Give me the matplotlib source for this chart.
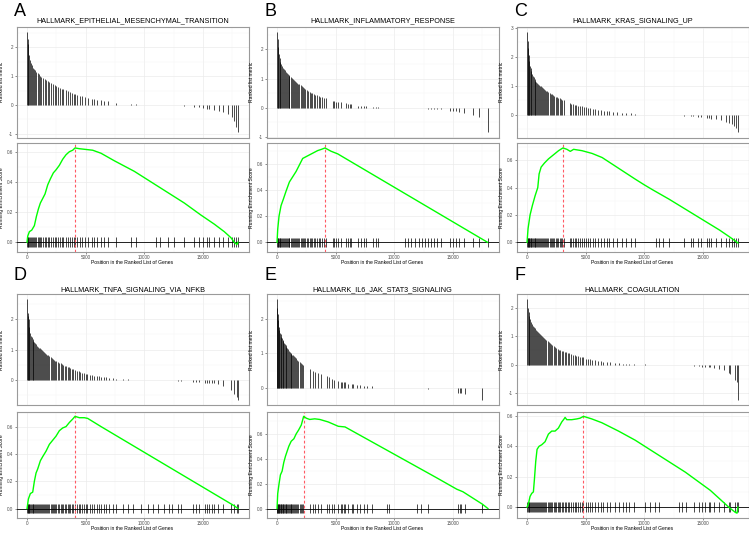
import matplotlib
matplotlib.use("Agg")
import matplotlib.pyplot as plt
import numpy as np
from matplotlib.ticker import MultipleLocator, FormatStrFormatter

plt.rcParams["font.family"] = ["Liberation Sans", "DejaVu Sans"]
plt.rcParams["axes.unicode_minus"] = False

N_GENES = 17980

# ---- A: EMT ----
hits_a = [10, 60, 120, 180, 250, 330, 420, 500, 600, 700, 800, 900, 1000, 1100, 1200,
          1350, 1500, 1600, 1750, 1900, 2050, 2200, 2350, 2500, 2650, 2800, 2950, 3100,
          3300, 3500, 3650, 3800, 4000, 4100, 4300, 4500, 4700, 4900, 5200, 5500, 5700,
          6000, 6300, 6600, 6900,
          7580, 8860, 9290, 10990, 11360, 11990, 12500, 13350, 14260, 14680, 14970,
          15310, 15540, 15960, 16390, 16670, 17100, 17470, 17670, 17840, 17960]
metric_a = [2.53, 2.3, 2.1, 1.75, 1.55, 1.45, 1.38, 1.3, 1.25, 1.2, 1.15, 1.1, 1.06, 1.02,
            0.98, 0.94, 0.9, 0.87, 0.83, 0.8, 0.76, 0.73, 0.7, 0.67, 0.63, 0.6, 0.57, 0.55,
            0.52, 0.49, 0.46, 0.43, 0.4, 0.38, 0.35, 0.32, 0.3, 0.27, 0.24, 0.21, 0.2, 0.18,
            0.16, 0.15, 0.14,
            0.07, 0.03, 0.02, 0.01, 0.01, 0.0, -0.01, -0.02, -0.06, -0.08, -0.1, -0.12,
            -0.14, -0.17, -0.2, -0.24, -0.3, -0.4, -0.55, -0.75, -0.95]
es_pos_a = [0, 57, 199, 398, 625, 795, 966, 1136, 1335, 1534, 1761, 1988, 2244, 2471, 2755,
            3039, 3323, 3607, 3891, 4090, 4459, 5027, 5595, 6305, 7441, 9145, 10565, 11985,
            13405, 14825, 15961, 16813, 17381, 17665, 17892, 17980]
es_a = [0, 0.04, 0.07, 0.08, 0.11, 0.17, 0.22, 0.26, 0.29, 0.32, 0.38, 0.42, 0.46, 0.48, 0.51,
        0.55, 0.58, 0.60, 0.61, 0.625, 0.62, 0.615, 0.61, 0.59, 0.54, 0.47, 0.40, 0.33, 0.26,
        0.18, 0.12, 0.07, 0.03, 0.0, -0.015, 0.0]

# ---- B: inflammatory response ----
hits_b = [5, 40, 90, 150, 210, 280, 350, 430, 500, 580, 660, 740, 820, 900, 980, 1060, 1150,
          1240, 1330, 1420, 1510, 1600, 1700, 1800, 1900, 2000, 2100, 2200, 2300, 2420, 2540,
          2660, 2780, 2900, 3020, 3140, 3260, 3400, 3550, 3700, 3850, 4000, 4150,
          4743, 4885, 5027, 5226, 5453, 5879, 6021, 6191, 6305, 6930, 7157, 7384, 7583,
          8179, 8406, 8634,
          10906, 11133, 11417, 11758, 12127, 12326, 12610, 12894, 13121, 13405, 13632, 13973,
          14768, 14967, 15251, 15478, 15961, 16671, 17182, 17949]
metric_b = [2.6, 2.35, 2.1, 1.85, 1.7, 1.58, 1.5, 1.44, 1.38, 1.33, 1.28, 1.24, 1.2, 1.16,
            1.12, 1.09, 1.05, 1.02, 0.99, 0.96, 0.93, 0.9, 0.86, 0.83, 0.8, 0.77, 0.74, 0.71,
            0.68, 0.64, 0.61, 0.58, 0.55, 0.52, 0.5, 0.47, 0.45, 0.42, 0.4, 0.38, 0.36, 0.35, 0.33,
            0.23, 0.22, 0.21, 0.2, 0.19, 0.15, 0.14, 0.13, 0.12, 0.07, 0.06, 0.06, 0.05,
            0.04, 0.035, 0.03,
            -0.01, -0.01, -0.01, -0.015, -0.02, -0.02, -0.025, -0.03, -0.03, -0.04, -0.04, -0.05,
            -0.1, -0.11, -0.12, -0.14, -0.17, -0.25, -0.33, -0.85]
es_pos_b = [0, 57, 170, 341, 540, 767, 1051, 1335, 1619, 1903, 2187, 2613, 3039, 3465, 3806,
            4090, 4601, 5169, 6305, 7725, 9145, 10565, 11985, 13405, 14825, 16245, 17381, 17949]
es_b = [0, 0.1, 0.2, 0.28, 0.33, 0.39, 0.46, 0.5, 0.54, 0.59, 0.64, 0.66, 0.68, 0.7, 0.71,
        0.72, 0.695, 0.675, 0.615, 0.54, 0.465, 0.39, 0.315, 0.24, 0.165, 0.09, 0.03, 0.0]

# ---- C: KRAS signaling up ----
hits_c = [5, 40, 80, 130, 180, 240, 300, 370, 440, 510, 580, 650, 720, 800, 880, 960, 1040,
          1120, 1200, 1280, 1370, 1460, 1550, 1640, 1730, 1820, 1920, 2020, 2120, 2220, 2330,
          2440, 2550, 2660, 2770, 2880, 3000, 3150,
          3628, 3743, 3886, 4057, 4171, 4343, 4514, 4686, 4857, 5028, 5200, 5400, 5600, 5828,
          6057, 6285, 6543, 6828, 7028, 7314, 7685, 8057, 8400, 8828, 9200,
          11028, 11257, 11600, 12114, 13400, 13971, 14171, 14543, 14828, 15314, 15485, 15685,
          16114, 16543, 16971, 17200, 17485, 17685, 17828, 17971]
metric_c = [2.86, 2.55, 2.3, 2.05, 1.85, 1.7, 1.6, 1.5, 1.42, 1.35, 1.29, 1.23, 1.18, 1.14,
            1.1, 1.07, 1.04, 1.0, 0.98, 0.95, 0.92, 0.89, 0.86, 0.83, 0.8, 0.78, 0.76, 0.73,
            0.71, 0.68, 0.65, 0.62, 0.6, 0.58, 0.56, 0.54, 0.52, 0.5,
            0.4, 0.38, 0.36, 0.34, 0.33, 0.31, 0.3, 0.28, 0.26, 0.25, 0.23, 0.22, 0.2, 0.18,
            0.17, 0.15, 0.13, 0.12, 0.11, 0.1, 0.08, 0.06, 0.05, 0.04, 0.03,
            -0.01, -0.015, -0.02, -0.02, -0.04, -0.05, -0.05, -0.07, -0.08, -0.12, -0.13, -0.14,
            -0.17, -0.2, -0.25, -0.28, -0.32, -0.38, -0.45, -0.62]
es_pos_c = [0, 86, 257, 457, 686, 914, 1028, 1200, 1486, 1828, 2257, 2686, 3057, 3400, 3686,
            3971, 4686, 5543, 6400, 7828, 9257, 10000, 10685, 12114, 13543, 14971, 16400, 17257,
            17828, 17980]
es_c = [0, 0.1, 0.2, 0.27, 0.34, 0.4, 0.5, 0.55, 0.58, 0.61, 0.64, 0.67, 0.69, 0.68, 0.665,
        0.68, 0.67, 0.65, 0.62, 0.54, 0.46, 0.42, 0.385, 0.315, 0.24, 0.165, 0.09, 0.04,
        0.005, -0.005]

# ---- D: TNFA signaling via NFKB ----
hits_d = [5, 40, 90, 140, 200, 260, 330, 400, 470, 540, 610, 690, 770, 850, 930, 1010, 1090,
          1170, 1250, 1340, 1430, 1520, 1610, 1700, 1800, 1900, 2000, 2100, 2200, 2300, 2400,
          2500, 2620, 2740, 2860, 2980, 3100, 3220, 3340, 3460, 3580, 3700, 3820, 3950, 4090,
          4250, 4400, 4550, 4700, 4850, 5000, 5150,
          5396, 5566, 5737, 5936, 6134, 6305, 6532, 6759, 7015, 7299,
          7583, 8151, 8577, 9003, 9713, 10281, 10707, 11133, 11701, 12127, 12326, 12837, 13121,
          14115, 14399, 14683, 15166, 15336, 15535, 15734, 15961, 16245, 16671, 17381, 17665,
          17892, 17970]
metric_d = [2.66, 2.2, 2.12, 2.0, 1.75, 1.55, 1.46, 1.4, 1.35, 1.3, 1.26, 1.21, 1.17, 1.13,
            1.1, 1.07, 1.04, 1.01, 0.99, 0.96, 0.93, 0.9, 0.87, 0.84, 0.81, 0.78, 0.75, 0.72,
            0.69, 0.67, 0.64, 0.62, 0.59, 0.57, 0.55, 0.52, 0.5, 0.48, 0.46, 0.44, 0.42, 0.4,
            0.38, 0.36, 0.34, 0.31, 0.29, 0.27, 0.25, 0.23, 0.21, 0.19,
            0.17, 0.16, 0.14, 0.13, 0.12, 0.11, 0.1, 0.09, 0.08, 0.06,
            0.04, 0.03, 0.03, 0.02, 0.02, 0.02, 0.01, 0.01, 0.0, -0.01, -0.01, -0.02, -0.02,
            -0.05, -0.05, -0.06, -0.08, -0.09, -0.09, -0.1, -0.11, -0.13, -0.2, -0.33, -0.45,
            -0.55, -0.65]
es_pos_d = [0, 114, 284, 483, 625, 767, 909, 1136, 1335, 1619, 1903, 2187, 2471, 2755, 3039,
            3323, 3607, 3891, 4090, 4459, 4885, 5169, 6305, 9145, 11985, 14825, 17665, 17980]
es_d = [0, 0.07, 0.11, 0.12, 0.2, 0.26, 0.29, 0.35, 0.38, 0.42, 0.47, 0.5, 0.53, 0.57, 0.59,
        0.6, 0.63, 0.655, 0.675, 0.665, 0.665, 0.66, 0.6, 0.455, 0.31, 0.165, 0.02, 0.0]

# ---- E: IL6 JAK STAT3 signaling ----
hits_e = [5, 35, 70, 110, 150, 200, 250, 300, 360, 420, 480, 540, 600, 660, 730, 800, 870,
          940, 1010, 1080, 1150, 1230, 1310, 1390, 1470, 1550, 1640, 1730, 1820, 1920, 2020,
          2120, 2230,
          2784, 3071, 3272, 3501, 3788, 4219, 4449, 4649, 4879, 5166, 5453, 5568, 5683, 5797,
          6084, 6371, 6515, 6802, 7089, 7376, 7663, 8093, 9385, 9528, 11968, 12255, 12829,
          15412, 15555, 15699, 15986, 17507]
metric_e = [2.57, 2.3, 2.15, 1.95, 1.75, 1.68, 1.6, 1.55, 1.48, 1.43, 1.39, 1.35, 1.31, 1.27,
            1.23, 1.19, 1.15, 1.11, 1.08, 1.05, 1.02, 0.99, 0.96, 0.94, 0.92, 0.9, 0.86, 0.82,
            0.78, 0.75, 0.72, 0.69, 0.66,
            0.55, 0.5, 0.47, 0.44, 0.4, 0.33, 0.3, 0.27, 0.24, 0.21, 0.18, 0.17, 0.17, 0.16,
            0.12, 0.11, 0.1, 0.08, 0.07, 0.06, 0.05, 0.04, 0.01, 0.01, -0.01, -0.01, -0.02,
            -0.14, -0.14, -0.15, -0.17, -0.35]
es_pos_e = [0, 57, 172, 287, 431, 574, 718, 861, 1005, 1205, 1435, 1636, 1837, 2066, 2267,
            2497, 2784, 3214, 3645, 4362, 5223, 5797, 7806, 10676, 13546, 15326, 15842, 17507,
            17980]
es_e = [0, 0.12, 0.2, 0.27, 0.3, 0.37, 0.42, 0.46, 0.5, 0.54, 0.56, 0.6, 0.63, 0.67, 0.74,
        0.725, 0.715, 0.72, 0.715, 0.695, 0.66, 0.655, 0.55, 0.4, 0.25, 0.155, 0.135, 0.035, 0.0]

# ---- F: coagulation ----
hits_f = [10, 60, 130, 200, 280, 350, 430, 500, 580, 660, 740, 820, 900, 990, 1080, 1170,
          1260, 1350, 1450, 1550, 1650, 1750, 1850, 1950, 2050, 2150, 2260, 2370, 2480, 2600,
          2720, 2840, 2960, 3080, 3200, 3330, 3460, 3600, 3750, 3900, 4050, 4200, 4350, 4500,
          4650, 4800,
          5009, 5180, 5379, 5578, 5806, 6090, 6318, 6517, 6802, 7087, 7457, 7798, 8140, 8424,
          8709, 9079,
          10075, 10502, 10929, 11213, 12921, 13205, 13547, 14202, 14628, 14913, 15198, 15482,
          15625, 15909, 16336, 16763, 17190, 17332, 17759, 17901, 17975]
metric_f = [2.3, 2.0, 1.85, 1.7, 1.6, 1.5, 1.43, 1.37, 1.32, 1.27, 1.22, 1.18, 1.14, 1.1,
            1.06, 1.03, 1.0, 0.97, 0.94, 0.9, 0.86, 0.82, 0.78, 0.75, 0.72, 0.69, 0.66, 0.62,
            0.58, 0.55, 0.53, 0.51, 0.49, 0.47, 0.45, 0.43, 0.41, 0.39, 0.37, 0.35, 0.33, 0.31,
            0.29, 0.27, 0.26, 0.25,
            0.21, 0.19, 0.18, 0.17, 0.16, 0.13, 0.11, 0.1, 0.09, 0.08, 0.06, 0.04, 0.03, 0.03,
            0.02, 0.02,
            0.01, 0.0, 0.0, -0.01, -0.02, -0.02, -0.03, -0.05, -0.06, -0.07, -0.08, -0.09,
            -0.1, -0.11, -0.15, -0.2, -0.3, -0.33, -0.55, -0.62, -1.24]
es_pos_f = [0, 114, 256, 398, 541, 626, 740, 854, 1025, 1252, 1537, 1821, 2106, 2391, 2675,
            2960, 3159, 3244, 3387, 3814, 4241, 4525, 4810, 5521, 6375, 7798, 9221, 10644,
            12067, 13490, 14913, 15625, 16336, 17190, 17759, 17901, 17975]
es_f = [0, 0.02, 0.07, 0.09, 0.1, 0.18, 0.3, 0.38, 0.4, 0.41, 0.43, 0.48, 0.5, 0.5, 0.52,
        0.56, 0.58, 0.59, 0.575, 0.575, 0.58, 0.585, 0.597, 0.58, 0.555, 0.5, 0.44, 0.37,
        0.3, 0.23, 0.15, 0.11, 0.06, 0.0, -0.035, -0.04, 0.0]

letters = ["A", "B", "C", "D", "E", "F"]
titles = ["HALLMARK_EPITHELIAL_MESENCHYMAL_TRANSITION", "HALLMARK_INFLAMMATORY_RESPONSE",
          "HALLMARK_KRAS_SIGNALING_UP", "HALLMARK_TNFA_SIGNALING_VIA_NFKB",
          "HALLMARK_IL6_JAK_STAT3_SIGNALING", "HALLMARK_COAGULATION"]
all_hits = [hits_a, hits_b, hits_c, hits_d, hits_e, hits_f]
all_metric = [metric_a, metric_b, metric_c, metric_d, metric_e, metric_f]
all_es_pos = [es_pos_a, es_pos_b, es_pos_c, es_pos_d, es_pos_e, es_pos_f]
all_es = [es_a, es_b, es_c, es_d, es_e, es_f]

W, H = 749, 534
fig = plt.figure(figsize=(W / 100, H / 100), dpi=100)
fig.patch.set_facecolor("white")

# pixel layout of the two rows
ROWS = [
    {"letter": 11.5, "title": 20.5, "up": (27, 110.5), "low": (143, 109)},
    {"letter": 275, "title": 290, "up": (294, 111), "low": (411.5, 106.5)},
]
AX_LEFT, AX_W = 16.5, 232.0


def px_axes(left, top, width, height):
    return fig.add_axes([left / W, 1 - (top + height) / H, width / W, height / H])


def style(ax):
    for s in ax.spines.values():
        s.set_color("#9A9A9A")
        s.set_linewidth(0.8)
    ax.grid(True, which="major", color="#EBEBEB", lw=0.5)
    ax.grid(True, which="minor", color="#F4F4F4", lw=0.35)
    ax.set_axisbelow(True)
    ax.tick_params(which="major", length=1.5, width=0.4, color="#333333",
                   labelsize=3.3, labelcolor="#4D4D4D", pad=1)
    ax.tick_params(which="minor", length=0)
    ax.set_xlim(-0.05 * N_GENES, 1.05 * N_GENES)
    ax.xaxis.set_major_locator(MultipleLocator(5000))
    ax.xaxis.set_minor_locator(MultipleLocator(2500))


for i in range(6):
    row = ROWS[i // 3]
    x0 = 250 * (i % 3)
    hits = all_hits[i]
    metric = all_metric[i]
    es_pos = all_es_pos[i]
    es = all_es[i]

    fig.text((x0 + 14) / W, 1 - row["letter"] / H, letters[i], fontsize=13,
             ha="left", va="center", color="black")
    fig.text((x0 + AX_LEFT + AX_W / 2) / W, 1 - row["title"] / H, titles[i],
             fontsize=5.2, ha="center", va="center", color="black")

    # ranked list metric at the hit positions
    top, hgt = row["up"]
    ax1 = px_axes(x0 + AX_LEFT, top, AX_W, hgt)
    ax1.vlines(hits, 0, metric, color="black", lw=0.5)
    style(ax1)
    ax1.yaxis.set_major_locator(MultipleLocator(1))
    ax1.yaxis.set_minor_locator(MultipleLocator(0.5))
    ax1.yaxis.set_major_formatter(FormatStrFormatter("%d"))
    ax1.tick_params(axis="x", which="both", bottom=False, labelbottom=False)
    ax1.set_ylabel("Ranked list metric", fontsize=3.6, color="black")
    ax1.yaxis.set_label_coords(-0.054, 0.5)

    # running enrichment score
    top, hgt = row["low"]
    ax2 = px_axes(x0 + AX_LEFT, top, AX_W, hgt)
    h = (max(es) - min(es)) / 20
    ax2.vlines(hits, -h, h, color="black", lw=0.5)
    ax2.plot(es_pos, es, color="#00FF00", lw=1.0, zorder=4)
    ax2.axhline(0, color="black", lw=0.6, zorder=3)
    peak = es_pos[int(np.argmax(es))]
    ax2.axvline(peak, color="#FF5A64", lw=0.8, ls=(0, (2.5, 2)), zorder=3.5)
    style(ax2)
    ax2.yaxis.set_major_locator(MultipleLocator(0.2))
    ax2.yaxis.set_minor_locator(MultipleLocator(0.1))
    ax2.yaxis.set_major_formatter(FormatStrFormatter("%.1f"))
    ax2.xaxis.set_major_formatter(FormatStrFormatter("%d"))
    ax2.set_ylabel("Running Enrichment Score", fontsize=3.6, color="black")
    ax2.yaxis.set_label_coords(-0.054, 0.5)
    ax2.set_xlabel("Position in the Ranked List of Genes", fontsize=3.6, color="black")
    ax2.xaxis.set_label_coords(0.5, -10 / hgt)
    ax2.xaxis.label.set_va("center")

fig.savefig("out.png", dpi=100, facecolor="white")
